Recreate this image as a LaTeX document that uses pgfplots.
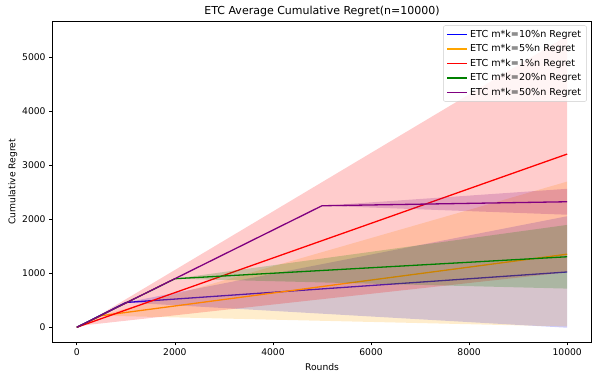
\documentclass[border=0pt]{standalone}
\usepackage{fontspec}
\setmainfont{DejaVu Sans}
\usepackage{pgfplots}
\pgfplotsset{compat=1.18}

\definecolor{mblue}{rgb}{0,0,1}
\definecolor{morange}{HTML}{FFA500}
\definecolor{mred}{rgb}{1,0,0}
\definecolor{mgreen}{HTML}{008000}
\definecolor{mpurple}{HTML}{800080}

\begin{document}
\begin{tikzpicture}
\begin{axis}[
  scale only axis, width=539.4pt, height=321pt,
  xmin=-500, xmax=10500, ymin=-278, ymax=5670,
  xtick={0,2000,...,10000}, ytick={0,1000,...,5000},
  scaled ticks=false,
  /pgf/number format/1000 sep={},
  /pgf/number format/assume math mode=true,
  tick align=outside, xtick pos=bottom, ytick pos=left,
  major tick length=3.2pt,
  tick style={black, line width=0.75pt},
  axis line style={black, line width=0.75pt},
  tick label style={font=\fontsize{9.2}{11}\selectfont},
  label style={font=\fontsize{9.2}{11}\selectfont},
  xlabel style={yshift=-1pt},
  ylabel style={yshift=-2pt},
  title style={font=\fontsize{11}{13}\selectfont, yshift=-5pt},
  title={ETC Average Cumulative Regret(n=10000)},
  xlabel={Rounds}, ylabel={Cumulative Regret},
  legend cell align=left,
  legend image code/.code={\draw[#1] (0pt,0pt) -- (20pt,0pt);},
  legend style={at={(rel axis cs:0.991,0.987)}, anchor=north east,
    draw=black!20, rounded corners=2pt, fill=white, fill opacity=0.8, text opacity=1,
    font=\fontsize{9.6}{11.5}\selectfont, row sep=1.7pt, inner xsep=3.5pt, inner ysep=2.5pt},
]
% blue 10%
\addplot[mblue, line width=1.3pt] coordinates {(0,0) (1000,460) (10000,1025)};
\addlegendentry{ETC m*k=10\%n Regret}
\addplot[draw=none, fill=mblue, fill opacity=0.2, forget plot] coordinates {(0,0) (1000,460) (10000,2058) (10000,-8) (1000,460)};
% orange 5%
\addplot[morange, line width=1.3pt] coordinates {(0,0) (500,215) (10000,1355)};
\addlegendentry{ETC m*k=5\%n Regret}
\addplot[draw=none, fill=morange, fill opacity=0.2, forget plot] coordinates {(0,0) (500,215) (10000,2700) (10000,15) (500,215)};
% red 1%
\addplot[mred, line width=1.3pt] coordinates {(0,0) (100,32) (10000,3210)};
\addlegendentry{ETC m*k=1\%n Regret}
\addplot[draw=none, fill=mred, fill opacity=0.2, forget plot] coordinates {(0,0) (100,32) (10000,5400) (10000,1020) (100,32)};
% green 20%
\addplot[mgreen, line width=1.3pt] coordinates {(0,0) (2000,900) (10000,1307)};
\addlegendentry{ETC m*k=20\%n Regret}
\addplot[draw=none, fill=mgreen, fill opacity=0.2, forget plot] coordinates {(0,0) (2000,900) (10000,1897) (10000,717) (2000,900)};
% purple 50%
\addplot[mpurple, line width=1.3pt] coordinates {(0,0) (5000,2252) (10000,2326)};
\addlegendentry{ETC m*k=50\%n Regret}
\addplot[draw=none, fill=mpurple, fill opacity=0.2, forget plot] coordinates {(0,0) (5000,2252) (10000,2566) (10000,2086) (5000,2252)};
\end{axis}
\pgfresetboundingbox
\path (-52.3pt,-36.7pt) rectangle (545.7pt,342.3pt);
\end{tikzpicture}
\end{document}
